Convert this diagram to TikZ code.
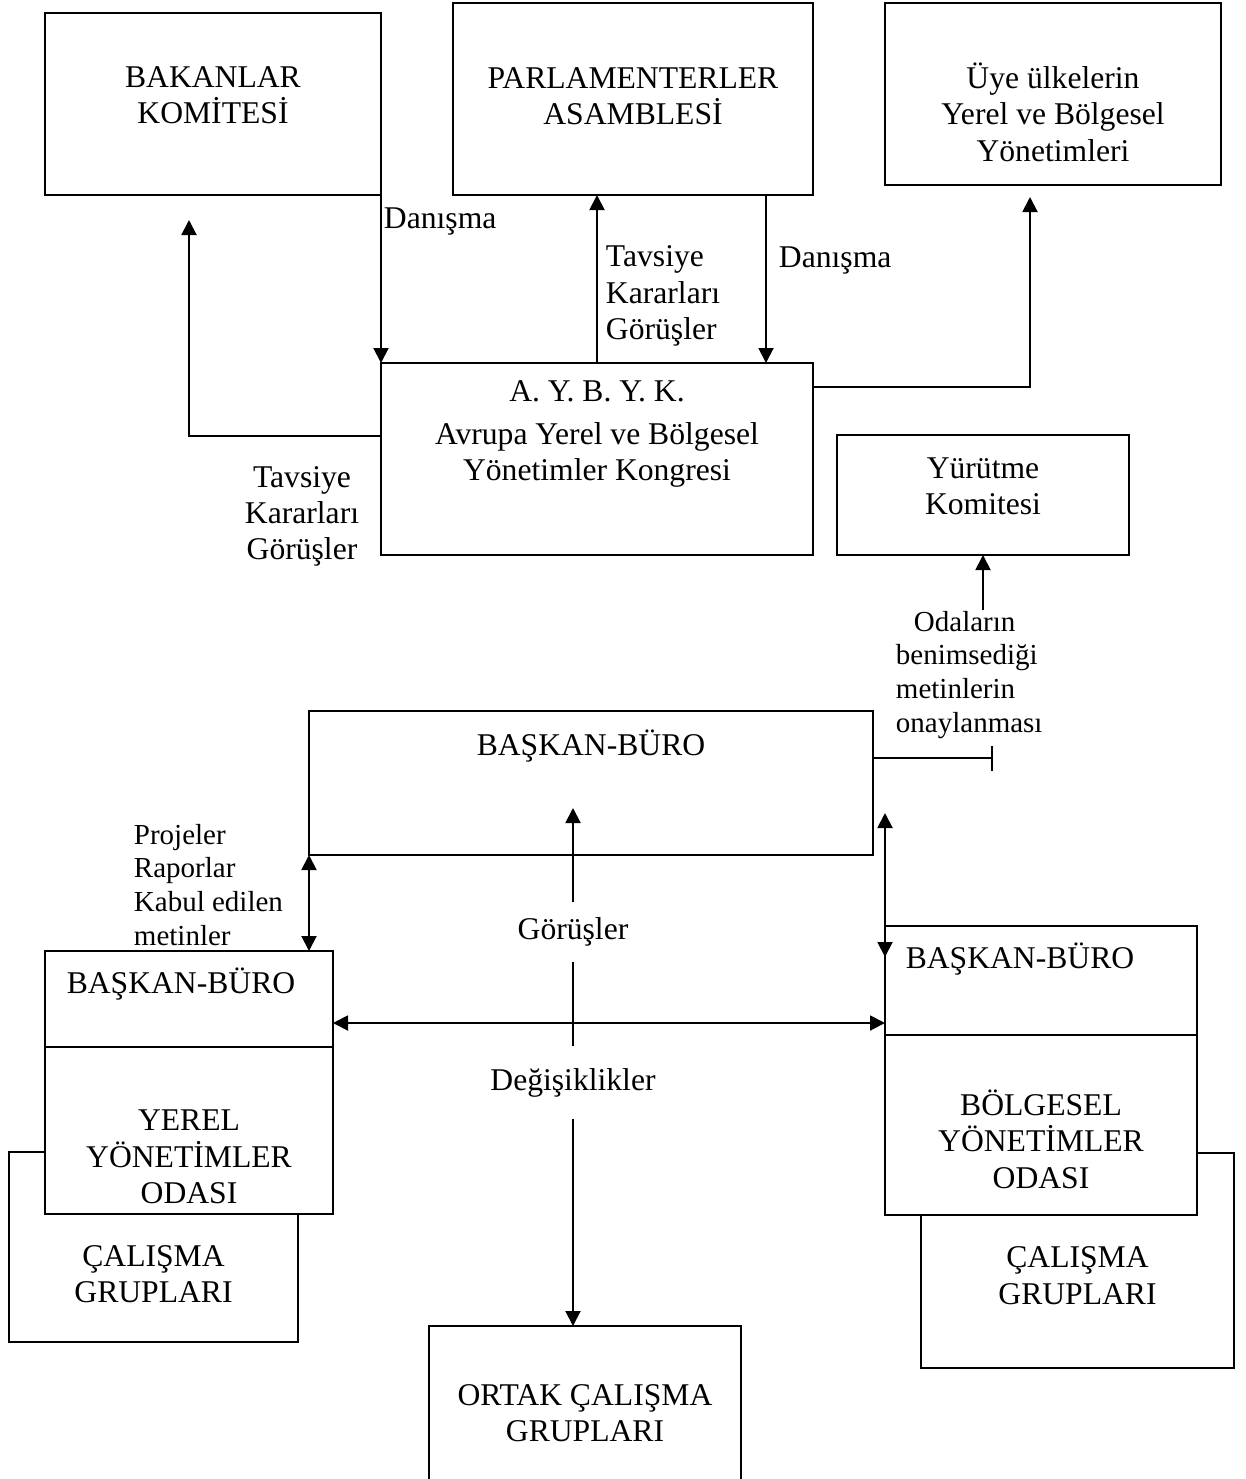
\documentclass[tikz,border=0pt]{standalone}
\usepackage{fontspec}
\setmainfont{Liberation Serif}
\usetikzlibrary{arrows.meta}

\begin{document}
\begin{tikzpicture}[y=-1cm, line width=1.1pt,
    >={Triangle[width=0.3cm,length=0.3cm]},
    kutu/.style={draw, rectangle, inner sep=0pt, outer sep=0pt, fill=white},
    metin/.style={font=\fontsize{18}{20.7}\selectfont, align=center, inner sep=0pt},
    kucuk/.style={font=\fontsize{16.5}{19.3}\selectfont, align=left, inner sep=0pt}]
  \useasboundingbox (0,0) rectangle (24.9,29.58);

  % ust kutular
  \node[kutu, minimum width=6.72cm, minimum height=3.64cm, label={[metin, yshift=0.18cm]center:{BAKANLAR\\KOMİTESİ}}] (bakan) at (4.26,2.08) {};
  \node[kutu, minimum width=7.2cm, minimum height=3.84cm, label={[metin, yshift=0.06cm]center:{PARLAMENTERLER\\ASAMBLESİ}}] (parl) at (12.66,1.98) {};
  \node[kutu, minimum width=6.72cm, minimum height=3.64cm, label={[metin, yshift=-0.36cm]center:{Üye ülkelerin\\Yerel ve Bölgesel\\Yönetimleri}}] (uye) at (21.06,1.88) {};
  \node[kutu, minimum width=8.64cm, minimum height=3.84cm, label={[metin, yshift=0.5cm]center:{A. Y. B. Y. K.\\[0.12cm]Avrupa Yerel ve Bölgesel\\Yönetimler Kongresi}}] (aybyk) at (11.94,9.18) {};
  \node[kutu, minimum width=5.84cm, minimum height=2.4cm, label={[metin, yshift=0.18cm]center:{Yürütme\\Komitesi}}] (yurutme) at (19.66,9.9) {};
  \node[kutu, minimum width=11.28cm, minimum height=2.88cm, label={[metin, yshift=0.74cm]center:BAŞKAN-BÜRO}] (baskan) at (11.82,15.66) {};

  % yerel yonetimler odasi
  \node[kutu, minimum width=5.78cm, minimum height=3.8cm, label={[metin, yshift=-0.54cm]center:{ÇALIŞMA\\GRUPLARI}}] (yerelcg) at (3.07,24.94) {};
  \node[kutu, minimum width=5.76cm, minimum height=1.92cm, label={[metin, xshift=-0.16cm, yshift=0.3cm]center:BAŞKAN-BÜRO}] (yerelbb) at (3.78,19.98) {};
  \node[kutu, minimum width=5.76cm, minimum height=3.34cm, label={[metin, yshift=-0.53cm]center:{YEREL\\YÖNETİMLER\\ODASI}}] (yerel) at (3.78,22.61) {};

  % bolgesel yonetimler odasi
  \node[kutu, minimum width=6.26cm, minimum height=4.3cm, label={[metin, yshift=-0.3cm]center:{ÇALIŞMA\\GRUPLARI}}] (bolgecg) at (21.55,25.21) {};
  \node[kutu, minimum width=6.24cm, minimum height=2.18cm, label={[metin, xshift=-0.42cm, yshift=0.43cm]center:BAŞKAN-BÜRO}] (bolgebb) at (20.82,19.61) {};
  \node[kutu, minimum width=6.24cm, minimum height=3.6cm, label={[metin, yshift=-0.28cm]center:{BÖLGESEL\\YÖNETİMLER\\ODASI}}] (bolge) at (20.82,22.5) {};

  \node[kutu, minimum width=6.24cm, minimum height=3.48cm, label={[metin]center:{ORTAK ÇALIŞMA\\GRUPLARI}}] (ortak) at (11.7,28.26) {};

  % etiketler
  \node[metin, anchor=west] (danisma1) at (7.66,4.44) {Danışma};
  \node[metin, anchor=west, align=left] (tavsiye1) at (12.1,5.92) {Tavsiye\\Kararları\\Görüşler};
  \node[metin, anchor=west] (danisma2) at (15.56,5.22) {Danışma};
  \node[metin] (tavsiye2) at (6.04,10.33) {Tavsiye\\Kararları\\Görüşler};
  \node[kucuk, anchor=west] (odalar) at (17.9,13.5) {\hspace*{0.36cm}Odaların\\benimsediği\\metinlerin\\onaylanması};
  \node[kucuk, anchor=west] (projeler) at (2.66,17.7) {Projeler\\Raporlar\\Kabul edilen\\metinler};
  \node[metin, inner ysep=0.29cm] (gorus) at (11.46,18.64) {Görüşler};
  \node[metin, inner ysep=0.43cm] (degis) at (11.46,21.65) {Değişiklikler};
  \coordinate (gucu) at (11.46,16.16);
  \coordinate (onay) at (19.86,15.16);

  % baglantilar
  \draw[->] (bakan.south east) -- (aybyk.north west);
  \draw[->] (aybyk.north) -- (aybyk.north |- parl.south);
  \draw[->] ([xshift=2.66cm]parl.south) -- ([xshift=2.66cm]parl.south |- aybyk.north);
  \draw[->, shorten >=0.24cm] ([yshift=1.44cm]aybyk.east) -| ([xshift=-0.46cm]uye.south);
  \draw[->, shorten >=0.5cm] ([yshift=0.46cm]aybyk.west) -| ([xshift=-0.48cm]bakan.south);
  \draw[->] (yurutme.south |- odalar.north) -- (yurutme.south);
  \draw[-{Bar[width=0.5cm]}] ([yshift=0.5cm]baskan.east) -- (onay);
  \draw[<->] (baskan.south west) -- (baskan.south west |- yerelbb.north);
  \draw[<->] ([yshift=2.26cm]bolgebb.north west) -- ([yshift=-0.62cm]bolgebb.north west);
  \draw[<->] ([yshift=-0.48cm]yerelbb.east) -- ([yshift=-0.48cm]yerelbb.east -| bolgebb.west);
  \draw[->] (gorus.north) -- (gucu);
  \draw (gorus.south) -- (degis.north);
  \draw[->] (degis.south) -- (degis.south |- ortak.north);
\end{tikzpicture}
\end{document}
